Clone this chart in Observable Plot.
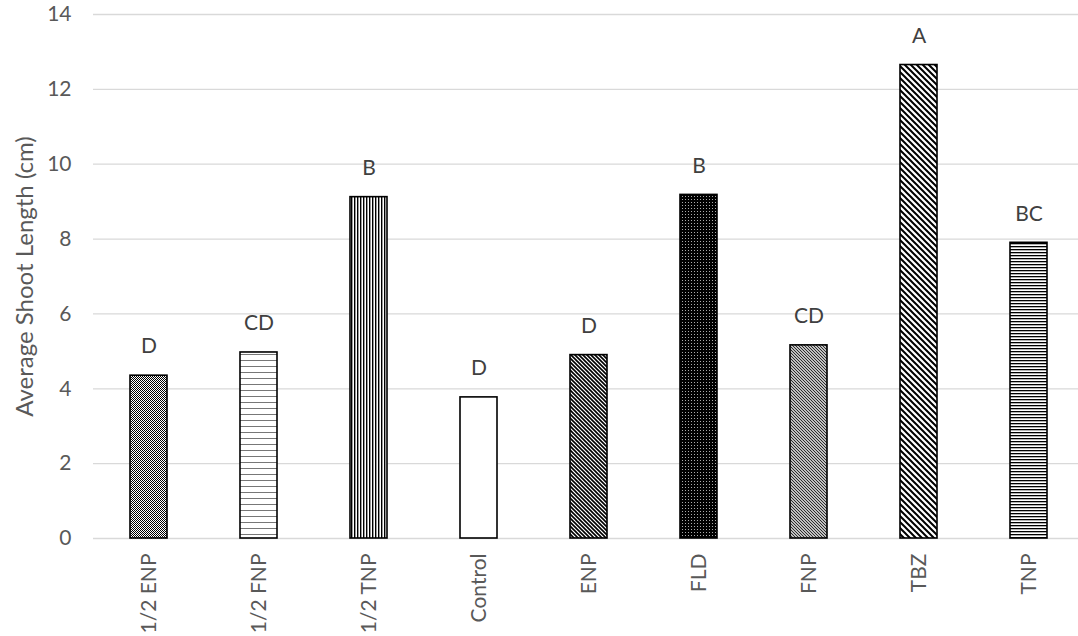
<!DOCTYPE html>
<html>
<head>
<meta charset="utf-8">
<script src="https://cdn.jsdelivr.net/npm/d3@7"></script>
<script src="https://cdn.jsdelivr.net/npm/@observablehq/plot@0.6"></script>
<style>
  html, body { margin: 0; padding: 0; background: #fff; }
  #chart { width: 1078px; height: 636px; overflow: hidden; }
  #chart svg { display: block; overflow: hidden; }
</style>
</head>
<body>
<div id="chart"></div>
<script>
const categories = ["1/2 ENP", "1/2 FNP", "1/2 TNP", "Control", "ENP", "FLD", "FNP", "TBZ", "TNP"];
const values = [4.35, 4.97, 9.12, 3.77, 4.90, 9.18, 5.16, 12.65, 7.90];
const letters = ["D", "CD", "B", "D", "D", "B", "CD", "A", "BC"];
const yTicks = [0, 2, 4, 6, 8, 10, 12, 14];

// pattern id per category (style only)
const patternIds = ["pDots", "pHorizWide", "pVert", "pWhite", "pDiagDense", "pDarkDots", "pDiagFine", "pDiagWide", "pHoriz"];

const data = categories.map((c, i) => ({category: c, value: values[i], letter: letters[i], pat: `url(#${patternIds[i]})`}));

const font = "Lato, 'Open Sans', sans-serif";

const plot = Plot.plot({
  width: 1078,
  height: 636,
  marginLeft: 93,
  marginRight: 0,
  marginTop: 14,
  marginBottom: 98,
  style: {fontFamily: font, color: "#595959", background: "#fff"},
  x: {domain: categories, range: [93.5, 1083.5], paddingInner: 0.668, paddingOuter: 0.334, label: null},
  y: {domain: [0, 14], ticks: yTicks, label: null},
  color: {type: "identity"},
  marks: [
    Plot.gridY(yTicks, {stroke: "#d9d9d9", strokeOpacity: 1, strokeWidth: 1.3}),
    Plot.axisY(yTicks, {tickSize: 0, tickPadding: 22, fontSize: 21, fill: "#595959", tickFormat: d => d}),
    Plot.axisX({tickSize: 0, tickPadding: 15, tickRotate: -90, fontSize: 21, fill: "#595959"}),
    Plot.barY(data, {x: "category", y: "value", fill: "pat", stroke: "#000", strokeWidth: 1.6}),
    Plot.text(data, {x: "category", y: "value", text: "letter", dy: -29, fontSize: 21, fill: "#404040"}),
    Plot.text(["Average Shoot Length (cm)"], {frameAnchor: "left", textAnchor: "middle", dx: -68, rotate: -90, fontSize: 24, fill: "#595959", text: d => d})
  ]
});

const defs = document.createElementNS("http://www.w3.org/2000/svg", "defs");
defs.innerHTML = `
  <pattern id="pDots" width="2" height="2" patternUnits="userSpaceOnUse">
    <rect width="2" height="2" fill="#fff"/>
    <rect x="0" y="0" width="1" height="1" fill="#000"/>
    <rect x="1" y="1" width="1" height="1" fill="#000"/>
  </pattern>
  <pattern id="pHorizWide" width="6" height="6" patternUnits="userSpaceOnUse">
    <rect width="6" height="6" fill="#fff"/>
    <rect x="0" y="0" width="6" height="1" fill="#777"/>
  </pattern>
  <pattern id="pVert" width="3" height="3" patternUnits="userSpaceOnUse">
    <rect width="3" height="3" fill="#fff"/>
    <rect x="0" y="0" width="1.4" height="3" fill="#000"/>
  </pattern>
  <pattern id="pWhite" width="4" height="4" patternUnits="userSpaceOnUse">
    <rect width="4" height="4" fill="#fff"/>
  </pattern>
  <pattern id="pDiagDense" width="4" height="4" patternUnits="userSpaceOnUse">
    <rect width="4" height="4" fill="#fff"/>
    <path d="M-1,-1 L5,5 M-1,3 L1,5 M3,-1 L5,1" stroke="#000" stroke-width="1.6"/>
  </pattern>
  <pattern id="pDarkDots" width="3" height="3" patternUnits="userSpaceOnUse">
    <rect width="3" height="3" fill="#000"/>
    <rect x="1" y="1" width="1" height="1" fill="#aaa"/>
  </pattern>
  <pattern id="pDiagFine" width="3" height="3" patternUnits="userSpaceOnUse">
    <rect width="3" height="3" fill="#fff"/>
    <path d="M-1,-1 L4,4 M-1,2 L1,4 M2,-1 L4,1" stroke="#222" stroke-width="1.1"/>
  </pattern>
  <pattern id="pDiagWide" width="6" height="6" patternUnits="userSpaceOnUse">
    <rect width="6" height="6" fill="#fff"/>
    <path d="M-1,-1 L7,7 M-1,5 L1,7 M5,-1 L7,1" stroke="#000" stroke-width="2"/>
  </pattern>
  <pattern id="pHoriz" width="3" height="3" patternUnits="userSpaceOnUse">
    <rect width="3" height="3" fill="#fff"/>
    <rect x="0" y="0" width="3" height="1.3" fill="#000"/>
  </pattern>`;
plot.insertBefore(defs, plot.firstChild);

document.getElementById("chart").appendChild(plot);
</script>
</body>
</html>
